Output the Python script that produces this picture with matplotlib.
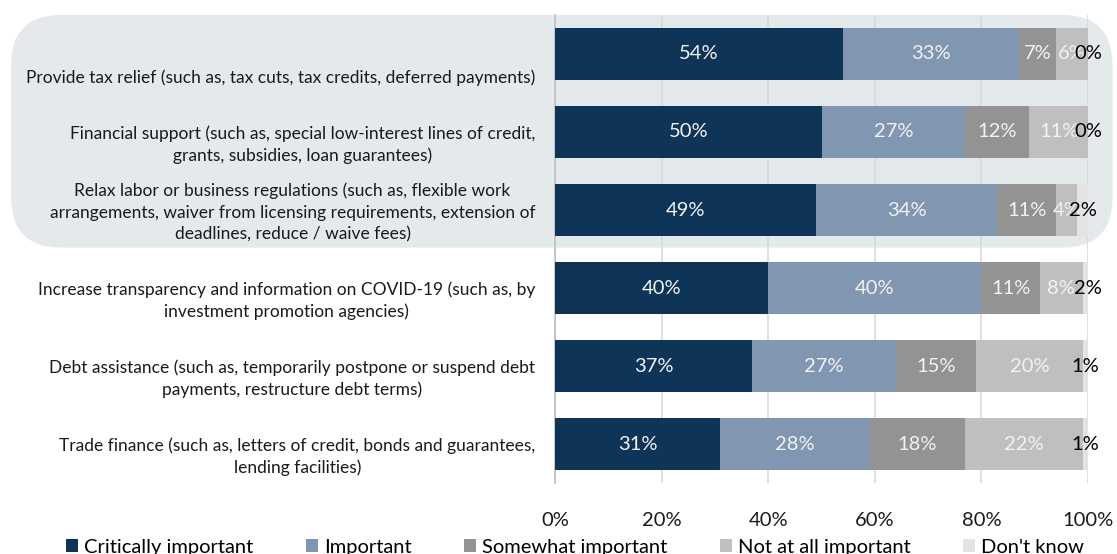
import matplotlib
matplotlib.use("Agg")
import matplotlib.pyplot as plt
from matplotlib.patches import FancyBboxPatch, Patch
import matplotlib.transforms as mtransforms
import numpy as np

plt.rcParams['font.family'] = ['Lato', 'DejaVu Sans']

categories = [
    "Provide tax relief (such as, tax cuts, tax credits, deferred payments)",
    "Financial support (such as, special low-interest lines of credit,\ngrants, subsidies, loan guarantees)",
    "Relax labor or business regulations (such as, flexible work\narrangements, waiver from licensing requirements, extension of\ndeadlines, reduce / waive fees)",
    "Increase transparency and information on COVID-19 (such as, by\ninvestment promotion agencies)",
    "Debt assistance (such as, temporarily postpone or suspend debt\npayments, restructure debt terms)",
    "Trade finance (such as, letters of credit, bonds and guarantees,\nlending facilities)",
]
series_names = ["Critically important", "Important", "Somewhat important",
                "Not at all important", "Don't know"]
critically = [54, 50, 49, 40, 37, 31]
important = [33, 27, 34, 40, 27, 28]
somewhat = [7, 12, 11, 11, 15, 18]
not_at_all = [6, 11, 4, 8, 20, 22]
dont_know = [0, 0, 2, 2, 1, 1]
xticks = [0, 20, 40, 60, 80, 100]
xtick_labels = ["0%", "20%", "40%", "60%", "80%", "100%"]

colors = ["#0E3557", "#8196B0", "#939393", "#BFBFBF", "#E3E3E3"]
label_colors = ["#F2F2F2", "#F2F2F2", "#F2F2F2", "#F2F2F2", "#000000"]

fig = plt.figure(figsize=(11.17, 5.54), dpi=100)

ax = fig.add_axes([0.497, 0.128, 0.477, 0.845])
ax.patch.set_alpha(0)
ax.set_zorder(2)

# highlight rounded box (behind axes)
box = FancyBboxPatch((0.010, 0.553), 0.986, 0.42,
                     boxstyle="round,pad=0,rounding_size=0.045",
                     transform=fig.transFigure, facecolor="#E4E9EC",
                     edgecolor="none", zorder=-5, mutation_aspect=1117/554)
fig.patches.append(box)

data = [critically, important, somewhat, not_at_all, dont_know]
y = np.arange(len(categories))
left = np.zeros(len(categories))
for s, (vals, c, lc) in enumerate(zip(data, colors, label_colors)):
    vals = np.array(vals, dtype=float)
    ax.barh(y, vals, left=left, height=0.667, color=c, zorder=3)
    for i, v in enumerate(vals):
        ax.text(left[i] + v / 2, y[i], f"{int(v)}%", ha="center", va="center",
                color=lc, fontsize=14.5, zorder=4)
    left += vals

ax.set_ylim(len(categories) - 0.5, -0.5)
ax.set_xlim(0, 100)
ax.set_xticks(xticks)
ax.set_xticklabels(xtick_labels, fontsize=14.5, color="#1a1a1a")
ax.set_yticks(y)
ax.set_yticklabels([])

# category labels: bottom-anchored in each band, right aligned, centred lines
trans = mtransforms.blended_transform_factory(ax.transAxes, ax.transData)
for i, cat in enumerate(categories):
    ax.text(-0.037, y[i] + 0.41, cat, transform=trans, ha="right", va="bottom",
            multialignment="center", fontsize=12.5, color="#1a1a1a",
            linespacing=1.4, clip_on=False)

ax.tick_params(axis="both", length=0)
ax.tick_params(axis="x", pad=21)
ax.grid(axis="x", color="#D9D9D9", linewidth=1.2, zorder=0)
for sp in ["top", "right", "bottom"]:
    ax.spines[sp].set_visible(False)
ax.spines["left"].set_color("#BFBFBF")
ax.spines["left"].set_linewidth(1.2)

handles = [Patch(facecolor=c, edgecolor="none") for c in colors]
fig.legend(handles, series_names, loc="center", bbox_to_anchor=(0.515, 0.012),
           ncol=5, frameon=False, fontsize=14.5, handlelength=0.6, handleheight=0.6,
           handletextpad=0.3, columnspacing=2.6)

fig.savefig("out.png", dpi=100)
